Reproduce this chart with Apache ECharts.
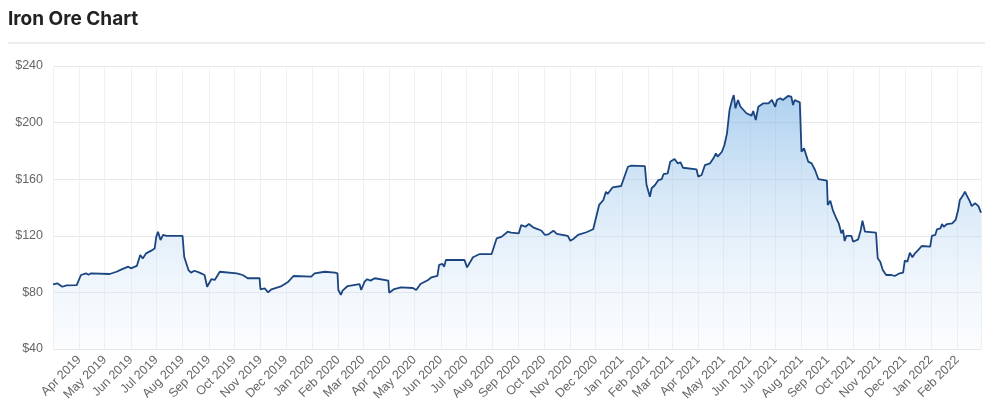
<!DOCTYPE html>
<html>
<head>
<meta charset="utf-8">
<script src="https://cdn.jsdelivr.net/npm/echarts@6/dist/echarts.min.js"></script>
<style>
  html, body { margin: 0; padding: 0; background: #fff; }
  #chart { width: 1000px; height: 417px; }
</style>
</head>
<body>
<div id="chart"></div>
<script>
const TITLE = 'Iron Ore Chart';
const MONTH_NAMES = ['Jan','Feb','Mar','Apr','May','Jun','Jul','Aug','Sep','Oct','Nov','Dec'];
const Y_TICKS = [40, 80, 120, 160, 200, 240];
const X_START = '2019-03-01';
const X_END = '2022-03-01';

const dates = [
'2019-03-01','2019-03-06','2019-03-12','2019-03-17','2019-03-29','2019-04-03','2019-04-09','2019-04-12','2019-04-15','2019-05-07',
'2019-05-15','2019-05-21','2019-05-29','2019-06-01','2019-06-08','2019-06-12','2019-06-15','2019-06-19','2019-06-25','2019-06-29',
'2019-07-01','2019-07-03','2019-07-06','2019-07-09','2019-07-13','2019-08-01','2019-08-03','2019-08-08','2019-08-11','2019-08-15',
'2019-08-21','2019-08-27','2019-08-30','2019-09-04','2019-09-08','2019-09-14','2019-10-04','2019-10-11','2019-10-17','2019-10-31',
'2019-11-01','2019-11-06','2019-11-10','2019-11-14','2019-11-26','2019-12-04','2019-12-10','2019-12-31','2020-01-04','2020-01-16',
'2020-01-28','2020-01-31','2020-02-01','2020-02-04','2020-02-06','2020-02-12','2020-02-26','2020-02-28','2020-03-03','2020-03-06',
'2020-03-10','2020-03-15','2020-03-31','2020-04-01','2020-04-07','2020-04-15','2020-04-29','2020-05-03','2020-05-08','2020-05-17',
'2020-05-21','2020-05-28','2020-05-30','2020-06-03','2020-06-05','2020-06-07','2020-06-29','2020-07-02','2020-07-09','2020-07-17',
'2020-07-31','2020-08-06','2020-08-12','2020-08-19','2020-08-23','2020-09-01','2020-09-04','2020-09-09','2020-09-13','2020-09-18',
'2020-09-24','2020-09-28','2020-10-02','2020-10-06','2020-10-12','2020-10-16','2020-10-29','2020-11-01','2020-11-04','2020-11-10',
'2020-11-20','2020-11-28','2020-12-05','2020-12-10','2020-12-13','2020-12-15','2020-12-21','2020-12-31','2021-01-08','2021-01-12',
'2021-01-28','2021-01-30','2021-02-03','2021-02-05','2021-02-09','2021-02-13','2021-02-17','2021-02-19','2021-02-24','2021-02-27',
'2021-03-04','2021-03-08','2021-03-11','2021-03-14','2021-03-30','2021-04-01','2021-04-05','2021-04-09','2021-04-15','2021-04-19',
'2021-04-22','2021-04-24','2021-04-29','2021-05-02','2021-05-05','2021-05-08','2021-05-11','2021-05-13','2021-05-15','2021-05-18',
'2021-05-21','2021-05-28','2021-06-03','2021-06-05','2021-06-08','2021-06-11','2021-06-17','2021-06-23','2021-06-27','2021-07-01',
'2021-07-03','2021-07-07','2021-07-10','2021-07-16','2021-07-20','2021-07-22','2021-07-24','2021-07-30','2021-08-01','2021-08-04',
'2021-08-06','2021-08-09','2021-08-13','2021-08-17','2021-08-21','2021-08-31','2021-09-01','2021-09-04','2021-09-07','2021-09-11',
'2021-09-14','2021-09-17','2021-09-19','2021-09-21','2021-09-23','2021-09-29','2021-10-01','2021-10-07','2021-10-10','2021-10-12',
'2021-10-15','2021-10-28','2021-10-30','2021-11-02','2021-11-05','2021-11-09','2021-11-15','2021-11-19','2021-11-25','2021-11-29',
'2021-12-01','2021-12-04','2021-12-07','2021-12-10','2021-12-13','2021-12-17','2021-12-21','2021-12-31','2022-01-02','2022-01-06',
'2022-01-08','2022-01-12','2022-01-14','2022-01-16','2022-01-20','2022-01-26','2022-01-30','2022-02-02','2022-02-04','2022-02-08',
'2022-02-10','2022-02-12','2022-02-16','2022-02-18','2022-02-22','2022-02-26','2022-03-01'
];

const prices = [
85.7,86.4,84.0,85.0,85.2,92.3,93.5,92.5,93.5,93.0,
94.6,96.3,98.2,97.0,98.7,106.4,104.0,107.6,109.5,111.0,
119.4,122.9,117.0,120.6,120.0,120.0,105.0,95.8,94.0,95.3,
94.0,92.3,84.0,89.3,88.8,94.6,93.5,92.3,90.0,90.0,
82.2,82.9,80.0,82.2,84.5,87.6,91.6,91.1,93.5,94.6,
94.0,93.5,81.7,78.2,81.2,84.5,85.9,81.7,87.6,89.3,
88.3,90.0,88.3,79.8,82.4,83.6,83.1,81.7,85.9,88.8,
90.7,91.6,99.4,100.1,98.2,102.9,102.9,97.7,104.8,107.1,
107.1,118.2,119.4,122.9,122.2,121.7,127.6,126.4,128.3,126.0,
124.6,123.6,120.6,121.0,123.6,121.3,120.0,116.5,117.5,120.6,
122.5,124.6,141.8,145.3,151.2,149.5,154.3,155.2,168.8,169.6,
169.3,155.9,147.6,153.6,155.9,159.4,160.1,163.5,164.2,172.4,
174.3,171.2,172.0,168.1,167.0,161.8,163.0,170.0,171.2,174.8,
178.3,175.9,179.4,184.2,192.4,208.9,216.0,219.5,210.1,216.0,
211.2,206.6,204.9,208.2,201.8,211.2,213.6,213.6,216.0,211.2,
216.0,217.2,216.0,218.8,218.3,212.4,216.0,214.3,179.4,181.8,
183.0,172.4,171.2,166.5,160.0,159.0,141.8,144.8,138.2,132.4,
128.8,121.8,124.1,116.3,119.9,119.9,115.8,117.5,124.1,130.7,
122.9,122.2,104.1,101.7,95.8,92.3,92.3,91.6,93.5,94.0,
102.4,101.7,108.1,104.8,107.6,110.0,112.8,112.3,119.9,120.6,
124.6,125.3,128.3,126.4,128.3,128.8,131.2,138.2,145.3,148.8,
151.2,148.8,144.1,141.0,143.0,141.0,136.3
];

const seriesData = dates.map((d, i) => [d, prices[i]]);
const DAY = 24 * 3600 * 1000;

function monthLabel(v) {
  const d = new Date(v);
  return MONTH_NAMES[d.getMonth()] + ' ' + d.getFullYear();
}
function isoLabel(s) {
  const p = s.split('-');
  return MONTH_NAMES[+p[1] - 1] + ' ' + p[0];
}
const HIDDEN_LABELS = [isoLabel(X_START), isoLabel(X_END)];

const chart = echarts.init(document.getElementById('chart'), null, { renderer: 'canvas' });
chart.setOption({
  animation: false,
  backgroundColor: '#ffffff',
  title: {
    text: TITLE,
    left: 8,
    top: 10,
    padding: 0,
    textStyle: { fontFamily: 'Inter', fontSize: 19, fontWeight: 700, color: '#222222' }
  },
  graphic: [{
    type: 'rect',
    shape: { x: 8, y: 42, width: 977, height: 2 },
    style: { fill: '#eeeeee' },
    silent: true
  }],
  grid: { left: 53, right: 19, top: 66, bottom: 68, containLabel: false },
  xAxis: {
    type: 'time',
    min: X_START,
    max: X_END,
    splitNumber: 36,
    minInterval: 30 * DAY,
    maxInterval: 30 * DAY,
    axisLine: { show: false },
    axisTick: { show: false },
    splitLine: { show: true, lineStyle: { color: '#f0f0f0', width: 1 } },
    axisLabel: {
      rotate: 45,
      margin: 9,
      color: '#666666',
      fontSize: 12.5,
      fontFamily: 'Liberation Sans, Arial, sans-serif',
      hideOverlap: false,
      formatter: function (v) {
        const s = monthLabel(v);
        return HIDDEN_LABELS.indexOf(s) >= 0 ? '' : s;
      }
    }
  },
  yAxis: {
    type: 'value',
    min: Y_TICKS[0],
    max: Y_TICKS[Y_TICKS.length - 1],
    interval: 40,
    axisLine: { show: false },
    axisTick: { show: false },
    splitLine: { lineStyle: { color: '#e8e8e8', width: 1 } },
    axisLabel: {
      margin: 10,
      color: '#666666',
      fontSize: 12.5,
      fontFamily: 'Liberation Sans, Arial, sans-serif',
      formatter: v => '$' + v
    }
  },
  series: [{
    type: 'line',
    data: seriesData,
    showSymbol: false,
    symbol: 'none',
    lineStyle: { color: '#1b4580', width: 1.8 },
    areaStyle: {
      color: new echarts.graphic.LinearGradient(0, 0, 0, 1, [
        { offset: 0, color: 'rgba(110,172,226,0.8)' },
        { offset: 1, color: 'rgba(230,240,251,0.25)' }
      ])
    }
  }]
});
</script>
</body>
</html>
